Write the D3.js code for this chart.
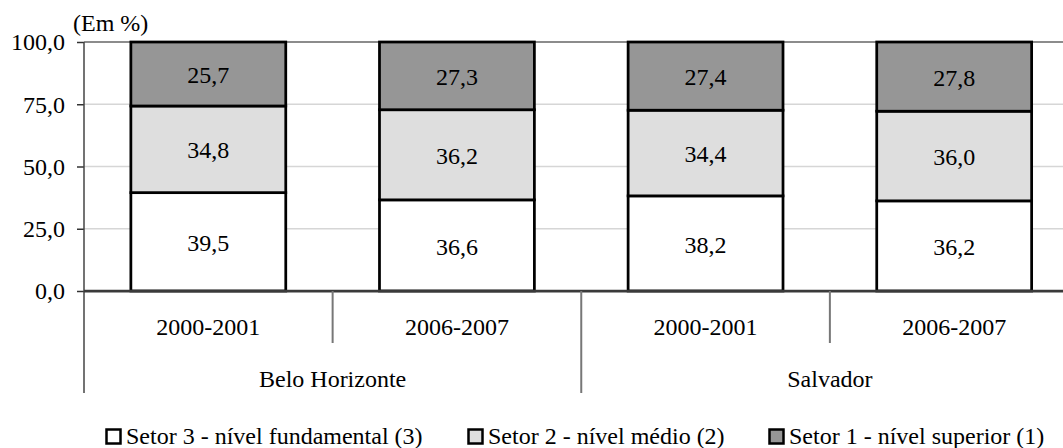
<!DOCTYPE html>
<meta charset="utf-8">
<style>
  body { margin: 0; background: #fff; }
  text { font-family: "Liberation Serif", "Times New Roman", serif; font-size: 24px; fill: #000; }
</style>
<svg width="1063" height="448"></svg>
<script src="https://cdn.jsdelivr.net/npm/d3@7"></script>
<script>
  // data
  var cities = ["Belo Horizonte", "Salvador"];
  var periods = ["2000-2001", "2006-2007"];
  var setor3 = [39.5, 36.6, 38.2, 36.2];
  var setor2 = [34.8, 36.2, 34.4, 36.0];
  var setor1 = [25.7, 27.3, 27.4, 27.8];
  var yTicks = [0, 25, 50, 75, 100];
  var seriesNames = ["Setor 3 - nível fundamental (3)", "Setor 2 - nível médio (2)", "Setor 1 - nível superior (1)"];
  var seriesColors = ["#ffffff", "#dedede", "#969696"];

  var svg = d3.select("svg"),
      plotLeft = 84, plotRight = 1078.5, plotTop = 42, plotBottom = 291;

  var pt = d3.formatLocale({decimal: ",", thousands: ".", grouping: [3], currency: ["R$", ""]});
  var fmt = pt.format(".1f");

  // one band per bar (city x period)
  var keys = [];
  cities.forEach(function(c, ci) {
    periods.forEach(function(p, pi) { keys.push(ci * periods.length + pi); });
  });

  var x = d3.scaleBand().domain(keys).range([plotLeft, plotRight]).paddingInner(0.377).paddingOuter(0.377 / 2);
  var y = d3.scaleLinear().domain([0, 100]).range([plotBottom, plotTop]);
  var step = x.step();

  var rows = keys.map(function(k) {
    return {k: k, s3: setor3[k], s2: setor2[k], s1: setor1[k]};
  });
  var stack = d3.stack().keys(["s3", "s2", "s1"])(rows);

  // gridlines
  svg.append("g").selectAll("line")
    .data(yTicks.filter(function(t) { return t > 0; }))
    .enter().append("line")
    .attr("x1", plotLeft).attr("x2", 1063)
    .attr("y1", function(d) { return y(d); }).attr("y2", function(d) { return y(d); })
    .attr("stroke", function(d) { return d == 100 ? "#8c8c8c" : "#d6d6d6"; })
    .attr("stroke-width", function(d) { return d == 100 ? 2 : 1.5; });

  // bars
  stack.forEach(function(layer, li) {
    var g = svg.append("g");
    g.selectAll("rect").data(layer).enter().append("rect")
      .attr("x", function(d) { return x(d.data.k); })
      .attr("width", x.bandwidth())
      .attr("y", function(d) { return y(Math.min(d[1], 100)); })
      .attr("height", function(d) { return y(d[0]) - y(Math.min(d[1], 100)); })
      .attr("fill", seriesColors[li])
      .attr("stroke", "#000")
      .attr("stroke-width", 2.75);
    g.selectAll("text").data(layer).enter().append("text")
      .attr("x", function(d) { return x(d.data.k) + x.bandwidth() / 2; })
      .attr("y", function(d) { return (y(d[0]) + y(Math.min(d[1], 100))) / 2; })
      .attr("dy", "0.38em")
      .attr("text-anchor", "middle")
      .text(function(d) { return fmt(d[1] - d[0]); });
  });

  // y axis
  var yAxis = svg.append("g").attr("transform", "translate(" + plotLeft + ",0)")
    .call(d3.axisLeft(y).tickValues(yTicks).tickFormat(fmt).tickSize(7).tickPadding(12));
  yAxis.select(".domain").remove();
  yAxis.selectAll(".tick line").attr("stroke", "#333").attr("stroke-width", 1.5);
  yAxis.selectAll("text").attr("font-size", null).attr("font-family", null).attr("dy", "0.33em");
  yAxis.attr("font-size", null).attr("font-family", null);
  svg.append("line").attr("x1", plotLeft).attr("x2", plotLeft).attr("y1", plotTop).attr("y2", 393)
    .attr("stroke", "#444").attr("stroke-width", 1.5);

  // baseline
  svg.append("line").attr("x1", plotLeft).attr("x2", 1063).attr("y1", y(0)).attr("y2", y(0))
    .attr("stroke", "#3a3a3a").attr("stroke-width", 2.75);

  // period labels and dividers
  svg.append("g").selectAll("text").data(keys).enter().append("text")
    .attr("x", function(k) { return x(k) + x.bandwidth() / 2; })
    .attr("y", 335)
    .attr("text-anchor", "middle")
    .text(function(k) { return periods[k % periods.length]; });

  svg.append("g").selectAll("line").data(keys.filter(function(k) { return k % periods.length == 1; }))
    .enter().append("line")
    .attr("x1", function(k) { return x(k) - x.step() * x.paddingInner() / 2; })
    .attr("x2", function(k) { return x(k) - x.step() * x.paddingInner() / 2; })
    .attr("y1", plotBottom).attr("y2", 343)
    .attr("stroke", "#777").attr("stroke-width", 2);

  // city labels and dividers
  var groupW = step * periods.length;
  svg.append("g").selectAll("text").data(cities).enter().append("text")
    .attr("x", function(c, i) { return plotLeft + groupW * (i + 0.5); })
    .attr("y", 387)
    .attr("text-anchor", "middle")
    .text(function(c) { return c; });

  svg.append("g").selectAll("line").data(cities.slice(1))
    .enter().append("line")
    .attr("x1", function(c, i) { return plotLeft + groupW * (i + 1); })
    .attr("x2", function(c, i) { return plotLeft + groupW * (i + 1); })
    .attr("y1", plotBottom).attr("y2", 393)
    .attr("stroke", "#777").attr("stroke-width", 2);

  // unit label
  svg.append("text").attr("x", 73).attr("y", 31).text("(Em %)");

  // legend
  var legendX = [105, 467, 768];
  var legend = svg.append("g").selectAll("g").data(seriesNames).enter().append("g")
    .attr("transform", function(d, i) { return "translate(" + legendX[i] + ",444)"; });
  legend.append("rect")
    .attr("x", 1.5).attr("y", -14.5).attr("width", 14).attr("height", 14)
    .attr("fill", function(d, i) { return seriesColors[i]; })
    .attr("stroke", "#000").attr("stroke-width", 2.5);
  legend.append("text")
    .attr("x", 21)
    .text(function(d) { return d; });
</script>
